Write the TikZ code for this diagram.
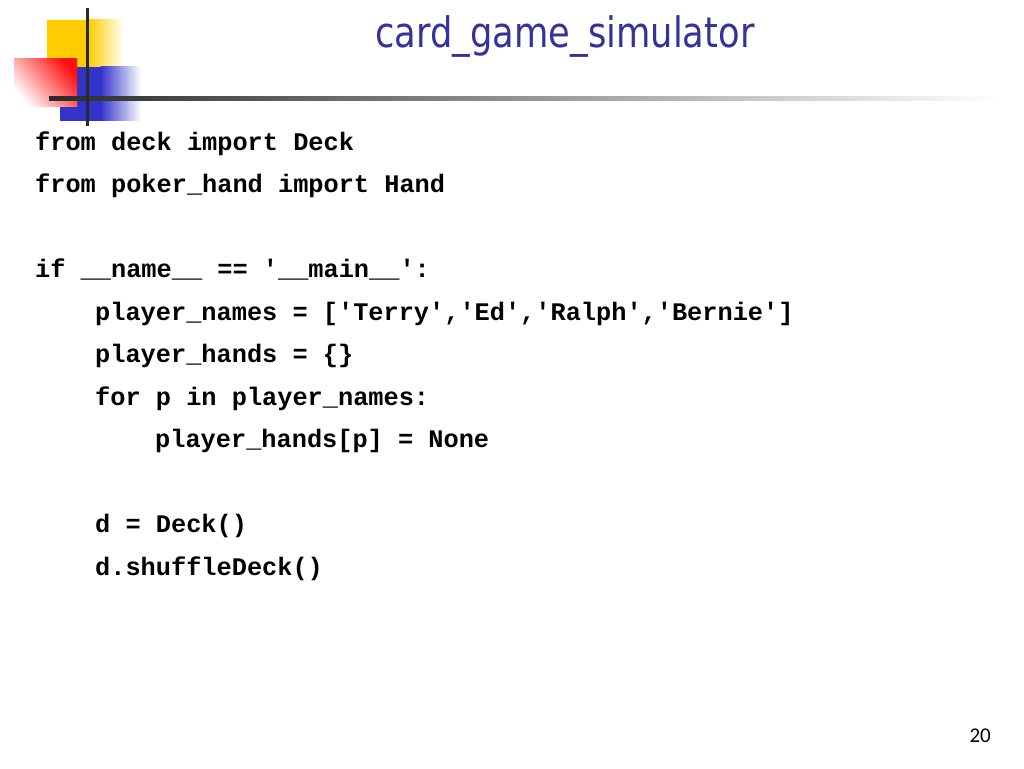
\documentclass[tikz,border=0pt]{standalone}
\usepackage{fontspec}
\newfontfamily\codefont{Liberation Mono}[Ligatures=TeXOff]
\newfontfamily\titlefont{DejaVu Sans}[FakeStretch=0.84]
\newfontfamily\numfont{Carlito}
\definecolor{titleblue}{HTML}{333399}
\definecolor{logoyellow}{HTML}{FFCC00}
\definecolor{logoblue}{HTML}{3333CC}
\definecolor{logored}{HTML}{FF1010}
\definecolor{barline}{HTML}{2A2A2A}
\newcommand{\q}{\textquotesingle}
\begin{document}
\begin{tikzpicture}[x=1pt,y=1pt,
  codeline/.style={anchor=base west,inner sep=0pt,font=\codefont\bfseries\fontsize{25.3}{30}\selectfont,text=black},
  titletext/.style={anchor=base,inner sep=0pt,font=\titlefont\fontsize{42}{50}\selectfont,text=titleblue},
  pagenum/.style={anchor=base east,inner sep=0pt,font=\numfont\fontsize{21}{25}\selectfont,text=black}]
\useasboundingbox (0,0) rectangle (1024,768);
\fill[white] (0,0) rectangle (1024,768);
% logo
\fill[logoyellow] (47,748) rectangle (89,701);
\shade[left color=logoyellow,right color=white] (88.5,748) rectangle (124,701);
\fill[logoblue] (60,701) rectangle (101,647);
\shade[left color=logoblue,right color=white] (100.5,701) rectangle (141,647);
\shade[top color=logored,bottom color=white,shading angle=-50] (14,709) rectangle (77,661);
% rules
\shade[left color=barline,right color=white] (49,671) rectangle (1000,667);
\fill[barline] (85.5,760) rectangle (88.5,642);
% title
\node[titletext] (title) at (565,720) {card\_game\_simulator};
% code
\node[codeline] (l1) at (35,617) {from deck import Deck};
\node[codeline] (l2) at (35,575) {from poker\_hand import Hand};
\node[codeline] (l3) at (35,490) {if \_\_name\_\_ == \q\_\_main\_\_\q:};
\node[codeline] (l4) at (95,447) {player\_names = [\q Terry\q,\q Ed\q,\q Ralph\q,\q Bernie\q]};
\node[codeline] (l5) at (95,405) {player\_hands = \{\}};
\node[codeline] (l6) at (95,362) {for p in player\_names:};
\node[codeline] (l7) at (155,320) {player\_hands[p] = None};
\node[codeline] (l8) at (95,235) {d = Deck()};
\node[codeline] (l9) at (95,192) {d.shuffleDeck()};
% page number
\node[pagenum] (pg) at (991,26) {20};
\end{tikzpicture}
\end{document}
